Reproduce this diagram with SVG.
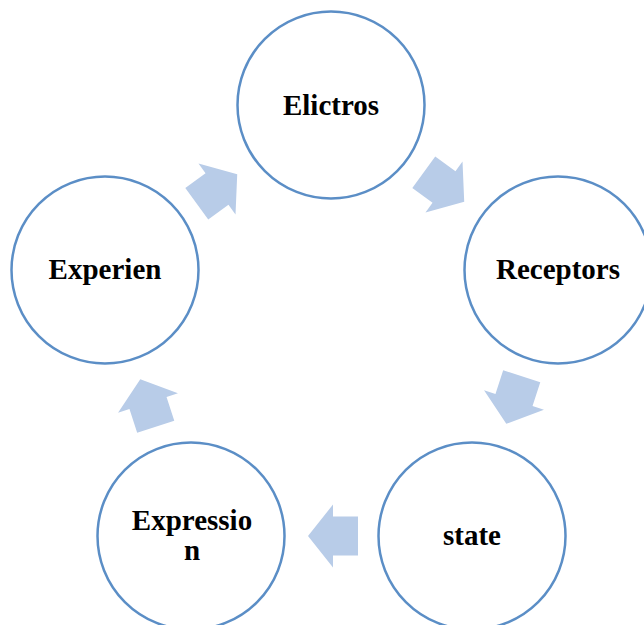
<svg xmlns="http://www.w3.org/2000/svg" width="644" height="625" viewBox="0 0 644 625">
<defs>
<style>
.node circle{fill:#FFFFFF;stroke:#5B8EC6;stroke-width:2.5}
.node text{font-family:"Liberation Serif","Times New Roman",serif;font-weight:bold;font-size:29px;fill:#000000;text-anchor:middle}
.arr{fill:#B8CCE8;stroke:none}
</style>
<path id="blk" d="M-25,-19.5 L0,-19.5 L0,-31.5 L25,0 L0,31.5 L0,19.5 L-25,19.5 Z"/>
</defs>
<rect width="644" height="625" fill="#FFFFFF"/>
<g id="connectors">
<use href="#blk" class="arr" transform="translate(444,187) rotate(36)"/>
<use href="#blk" class="arr" transform="translate(514,400) rotate(108)"/>
<use href="#blk" class="arr" transform="translate(333,536) rotate(180)"/>
<use href="#blk" class="arr" transform="translate(148,403) rotate(252)"/>
<use href="#blk" class="arr" transform="translate(217,189) rotate(324)"/>
</g>
<g id="elictros" class="node">
<circle cx="331" cy="105" r="93.5"/>
<text x="331" y="115">Elictros</text>
</g>
<g id="receptors" class="node">
<circle cx="558" cy="270" r="93.5"/>
<text x="558" y="279">Receptors</text>
</g>
<g id="state" class="node">
<circle cx="472" cy="536" r="93.5"/>
<text x="472" y="545">state</text>
</g>
<g id="expression" class="node">
<circle cx="191" cy="536" r="93.5"/>
<text x="192" y="530">Expressio</text>
<text x="192" y="560">n</text>
</g>
<g id="experien" class="node">
<circle cx="105" cy="270" r="93.5"/>
<text x="105" y="279">Experien</text>
</g>
</svg>
